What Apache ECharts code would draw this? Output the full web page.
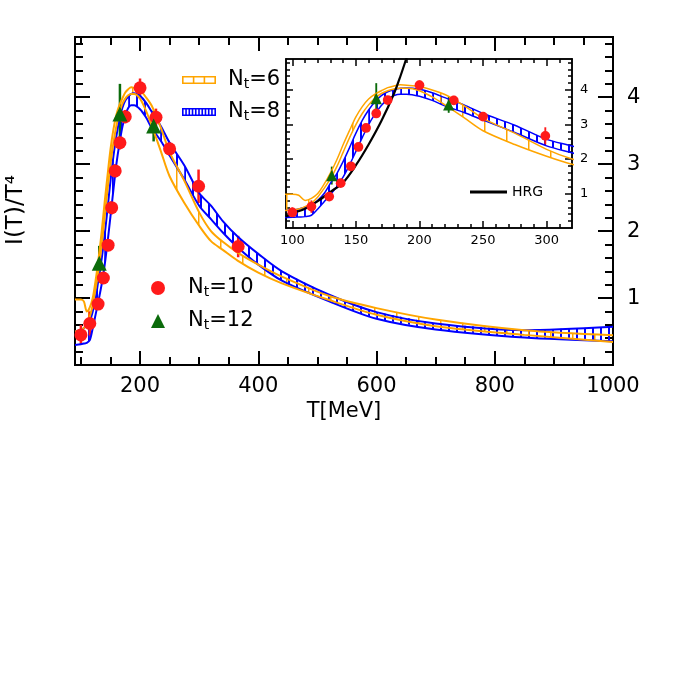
<!DOCTYPE html>
<html>
<head>
<meta charset="utf-8">
<script src="https://cdn.jsdelivr.net/npm/echarts@6/dist/echarts.min.js"></script>
<style>
html, body { margin: 0; padding: 0; background: #fff; }
#main { width: 692px; height: 692px; }
</style>
</head>
<body>
<div id="main"></div>
<script>
// bands: temperature grid (MeV) and lower/upper edges of I(T)/T^4
var bandT = [90, 100, 105, 110, 115, 120, 125, 130, 135, 140, 145, 150, 155, 160, 165, 170, 175, 180, 185, 190,
             200, 210, 220, 235, 250, 275, 300, 320, 340, 365, 400, 440, 520, 600, 700, 850, 1000];
var nt6Lo = [0.50, 0.52, 0.55, 0.62, 0.72, 0.90, 1.15, 1.43, 1.78, 2.20, 2.62, 3.00, 3.32, 3.57, 3.76, 3.90, 3.98, 4.03, 4.05, 4.05,
             3.98, 3.80, 3.57, 3.20, 2.82, 2.42, 2.08, 1.85, 1.72, 1.56, 1.38, 1.22, 0.97, 0.75, 0.58, 0.45, 0.345];
var nt6Hi = [0.98, 0.98, 0.95, 0.80, 0.86, 1.00, 1.27, 1.60, 1.98, 2.42, 2.83, 3.22, 3.52, 3.74, 3.88, 3.98, 4.07, 4.12, 4.15, 4.14,
             4.10, 4.00, 3.87, 3.55, 3.18, 2.75, 2.28, 2.00, 1.84, 1.68, 1.50, 1.32, 1.03, 0.85, 0.68, 0.52, 0.445];
var nt8Lo = [0.30, 0.31, 0.32, 0.33, 0.37, 0.55, 0.76, 0.97, 1.20, 1.48, 1.83, 2.22, 2.62, 3.00, 3.30, 3.55, 3.73, 3.84, 3.88, 3.88,
             3.82, 3.70, 3.54, 3.35, 3.13, 2.77, 2.38, 2.18, 1.98, 1.76, 1.50, 1.26, 0.95, 0.69, 0.53, 0.41, 0.355];
var nt8Hi = [0.50, 0.52, 0.55, 0.60, 0.66, 0.80, 1.00, 1.30, 1.58, 1.93, 2.33, 2.75, 3.12, 3.42, 3.66, 3.84, 3.95, 4.01, 4.05, 4.06,
             4.02, 3.92, 3.78, 3.57, 3.32, 2.98, 2.57, 2.38, 2.15, 1.92, 1.66, 1.40, 1.05, 0.79, 0.62, 0.52, 0.57];

// points with errors
var nt10T = [100, 115, 129, 138, 146, 152, 158, 166, 175, 200, 227, 250, 299, 366];
var nt10I = [0.45, 0.62, 0.91, 1.30, 1.79, 2.35, 2.90, 3.32, 3.71, 4.14, 3.70, 3.23, 2.67, 1.77];
var nt10Err = [0.15, 0.18, 0.08, 0.08, 0.08, 0.10, 0.10, 0.10, 0.10, 0.14, 0.13, 0.10, 0.25, 0.16];
var nt12T = [131, 166, 223];
var nt12I = [1.52, 3.75, 3.57];
var nt12Err = [0.26, 0.45, 0.23];

// hadron resonance gas curve (inset)
var hrgT = [95, 100, 110, 120, 130, 140, 150, 160, 170, 180, 185, 190, 195];
var hrgI = [0.33, 0.42, 0.56, 0.78, 1.05, 1.32, 1.82, 2.42, 3.10, 3.90, 4.40, 4.95, 5.5];

// ticks
var mainXTicks = [200, 400, 600, 800, 1000];
var mainXMinor = [100, 150, 250, 300, 350, 450, 500, 550, 650, 700, 750, 850, 900, 950];
var yTicks = [1, 2, 3, 4];
var yMinor = [0.2, 0.4, 0.6, 0.8, 1.2, 1.4, 1.6, 1.8, 2.2, 2.4, 2.6, 2.8, 3.2, 3.4, 3.6, 3.8, 4.2, 4.4, 4.6, 4.8];
var insetXTicks = [100, 150, 200, 250, 300];
var insetXMinor = [110, 120, 130, 140, 160, 170, 180, 190, 210, 220, 230, 240, 260, 270, 280, 290, 310];

var ORANGE = '#ffa500', BLUE = '#0000ff', RED = '#ff1a1a', GREEN = '#0b6b0b';

function hatch(color, step, w) {
  var c = document.createElement('canvas');
  c.width = step; c.height = 4;
  var g = c.getContext('2d');
  g.fillStyle = color;
  g.fillRect(0, 0, w, 4);
  return { type: 'pattern', image: c, repeat: 'repeat' };
}
var orangeHatch = hatch(ORANGE, 22, 1.5);
var blueHatch = hatch(BLUE, 8, 2);

function pairs(xs, ys) { return xs.map(function (x, i) { return [x, ys[i]]; }); }
function segs(lo, hi) {
  var out = [];
  for (var i = 0; i < bandT.length - 1; i++) {
    out.push([bandT[i], lo[i], hi[i], bandT[i + 1], lo[i + 1], hi[i + 1]]);
  }
  return out;
}
function hatchIcon(w, h, n, t) {
  var p = 'path://M0,0H' + w + 'V' + t + 'H0Z M0,' + (h - t) + 'H' + w + 'V' + h + 'H0Z';
  for (var i = 0; i < n; i++) {
    var x = (w - t) * i / (n - 1);
    p += ' M' + x + ',0H' + (x + t) + 'V' + h + 'H' + x + 'Z';
  }
  return p;
}

function axis(gi, pos, min, max, ticks, len, lw, label) {
  return {
    type: 'value', gridIndex: gi, position: pos, min: min, max: max,
    axisLine: { show: true, onZero: false, lineStyle: { color: '#000', width: lw } },
    axisTick: { show: true, inside: true, length: len, customValues: ticks, lineStyle: { color: '#000', width: lw } },
    axisLabel: label ? Object.assign({ show: true, customValues: ticks, color: '#000', fontFamily: 'DejaVu Sans',
      formatter: function (v) { return String(v); } }, label) : { show: false },
    splitLine: { show: false }
  };
}

function bandSeries(name, gi, lo, hi, color, pattern, lw) {
  var xi = gi * 4, yi = gi * 4;
  return [
    {
      name: name, type: 'custom', xAxisIndex: xi, yAxisIndex: yi, clip: true, silent: true,
      data: segs(lo, hi),
      renderItem: function (params, api) {
        var a = api.coord([api.value(0), api.value(1)]);
        var b = api.coord([api.value(3), api.value(4)]);
        var c = api.coord([api.value(3), api.value(5)]);
        var d = api.coord([api.value(0), api.value(2)]);
        return { type: 'polygon', shape: { points: [a, b, c, d] }, style: { fill: pattern } };
      }
    },
    { name: name, type: 'line', xAxisIndex: xi, yAxisIndex: yi, data: pairs(bandT, lo), showSymbol: false, smooth: 0.3,
      lineStyle: { color: color, width: lw }, itemStyle: { color: color } },
    { name: name, type: 'line', xAxisIndex: xi, yAxisIndex: yi, data: pairs(bandT, hi), showSymbol: false, smooth: 0.3,
      lineStyle: { color: color, width: lw }, itemStyle: { color: color } }
  ];
}

function errSeries(name, gi, xs, ys, es, color, lw) {
  return {
    name: name, type: 'custom', xAxisIndex: gi * 4, yAxisIndex: gi * 4, clip: true, silent: true,
    data: xs.map(function (x, i) { return [x, ys[i], es[i]]; }),
    renderItem: function (params, api) {
      var a = api.coord([api.value(0), api.value(1) - api.value(2)]);
      var b = api.coord([api.value(0), api.value(1) + api.value(2)]);
      return { type: 'line', shape: { x1: a[0], y1: a[1], x2: b[0], y2: b[1] }, style: { stroke: color, lineWidth: lw } };
    }
  };
}

function pointSeries(name, gi, xs, ys, symbol, size, color) {
  return { name: name, type: 'scatter', xAxisIndex: gi * 4, yAxisIndex: gi * 4, data: pairs(xs, ys),
    symbol: symbol, symbolSize: size, itemStyle: { color: color, opacity: 1 }, z: 4 };
}

var series = [];
[0, 1].forEach(function (gi) {
  var s = gi === 0 ? 1 : 0.75;
  series = series.concat(bandSeries('Nt=8', gi, nt8Lo, nt8Hi, BLUE, blueHatch, 2 * s));
  series = series.concat(bandSeries('Nt=6', gi, nt6Lo, nt6Hi, ORANGE, orangeHatch, 2 * s));
  if (gi === 1) {
    series.push({ name: 'HRG', type: 'line', xAxisIndex: 4, yAxisIndex: 4, data: pairs(hrgT, hrgI), showSymbol: false,
      smooth: 0.3, lineStyle: { color: '#000', width: 2.2 }, itemStyle: { color: '#000' } });
  }
  series.push(errSeries('Nt=10', gi, nt10T, nt10I, nt10Err, RED, 2.5 * s));
  series.push(errSeries('Nt=12', gi, nt12T, nt12I, nt12Err, GREEN, 2.5 * s));
  series.push(pointSeries('Nt=10', gi, nt10T, nt10I, 'circle', 13 * s, RED));
  series.push(pointSeries('Nt=12', gi, nt12T, nt12I, 'triangle', 15 * s, GREEN));
});

var richN = {
  p: { width: 7 },
  n: { fontSize: 21, fontFamily: 'DejaVu Sans', color: '#000', verticalAlign: 'top', lineHeight: 22 },
  s: { fontSize: 14, fontFamily: 'DejaVu Sans', color: '#000', verticalAlign: 'bottom', lineHeight: 14, padding: [11, 0, 0, 0] }
};
function ntLabel(name) { return '{p| }{n|N}{s|t}{n|=' + name.slice(3) + '}'; }

var chart = echarts.init(document.getElementById('main'), null, { renderer: 'canvas' });
chart.setOption({
  animation: false,
  backgroundColor: '#fff',
  textStyle: { fontFamily: 'DejaVu Sans' },
  grid: [
    { left: 75, top: 37, width: 538, height: 328 },
    { left: 286, top: 59, width: 286, height: 169, show: true, backgroundColor: '#fff', borderWidth: 0 }
  ],
  xAxis: [
    axis(0, 'bottom', 90, 1000, mainXTicks, 14, 2, { fontSize: 21, margin: 11 }),
    axis(0, 'bottom', 90, 1000, mainXMinor, 8, 2, null),
    axis(0, 'top', 90, 1000, mainXTicks, 14, 2, null),
    axis(0, 'top', 90, 1000, mainXMinor, 8, 2, null),
    axis(1, 'bottom', 95, 320, insetXTicks, 7, 1.5, { fontSize: 13, margin: 6 }),
    axis(1, 'bottom', 95, 320, insetXMinor, 4, 1.5, null),
    axis(1, 'top', 95, 320, insetXTicks, 7, 1.5, null),
    axis(1, 'top', 95, 320, insetXMinor, 4, 1.5, null)
  ],
  yAxis: [
    axis(0, 'left', 0, 4.9, yTicks, 15, 2, null),
    axis(0, 'left', 0, 4.9, yMinor, 8, 2, null),
    axis(0, 'right', 0, 4.9, yTicks, 15, 2, { fontSize: 21, margin: 14 }),
    axis(0, 'right', 0, 4.9, yMinor, 8, 2, null),
    axis(1, 'left', 0, 4.9, yTicks, 7, 1.5, null),
    axis(1, 'left', 0, 4.9, yMinor, 4, 1.5, null),
    axis(1, 'right', 0, 4.9, yTicks, 7, 1.5, { fontSize: 13, margin: 8 }),
    axis(1, 'right', 0, 4.9, yMinor, 4, 1.5, null)
  ],
  legend: [
    {
      left: 177, top: 61, orient: 'vertical', itemGap: 7, itemWidth: 34, itemHeight: 8, selectedMode: false,
      data: [
        { name: 'Nt=6', icon: hatchIcon(34, 8, 4, 1.6), itemStyle: { color: ORANGE } },
        { name: 'Nt=8', icon: hatchIcon(34, 8, 11, 1.6), itemStyle: { color: BLUE } }
      ],
      formatter: ntLabel, textStyle: { rich: richN }
    },
    {
      left: 146, top: 269, orient: 'vertical', itemGap: 8, itemWidth: 14, itemHeight: 14, selectedMode: false,
      data: [
        { name: 'Nt=10', icon: 'circle', itemStyle: { color: RED } },
        { name: 'Nt=12', icon: 'triangle', itemStyle: { color: GREEN } }
      ],
      formatter: ntLabel,
      textStyle: { rich: Object.assign({}, richN, { p: { width: 18 } }) }
    },
    {
      left: 465, top: 180, itemWidth: 37, itemHeight: 3, selectedMode: false,
      data: [{ name: 'HRG', icon: 'rect', itemStyle: { color: '#000' } }],
      textStyle: { fontSize: 14, color: '#000', fontFamily: 'DejaVu Sans' }
    }
  ],
  graphic: [
    { type: 'text', x: 16, y: 210, rotation: Math.PI / 2,
      style: { text: 'I(T)/T\u2074', fontSize: 23, fontFamily: 'DejaVu Sans', fill: '#000', align: 'center', verticalAlign: 'middle' } },
    { type: 'text', x: 344, y: 412,
      style: { text: 'T[MeV]', fontSize: 21, fontFamily: 'DejaVu Sans', fill: '#000', align: 'center', verticalAlign: 'middle' } }
  ],
  series: series
});
</script>
</body>
</html>
